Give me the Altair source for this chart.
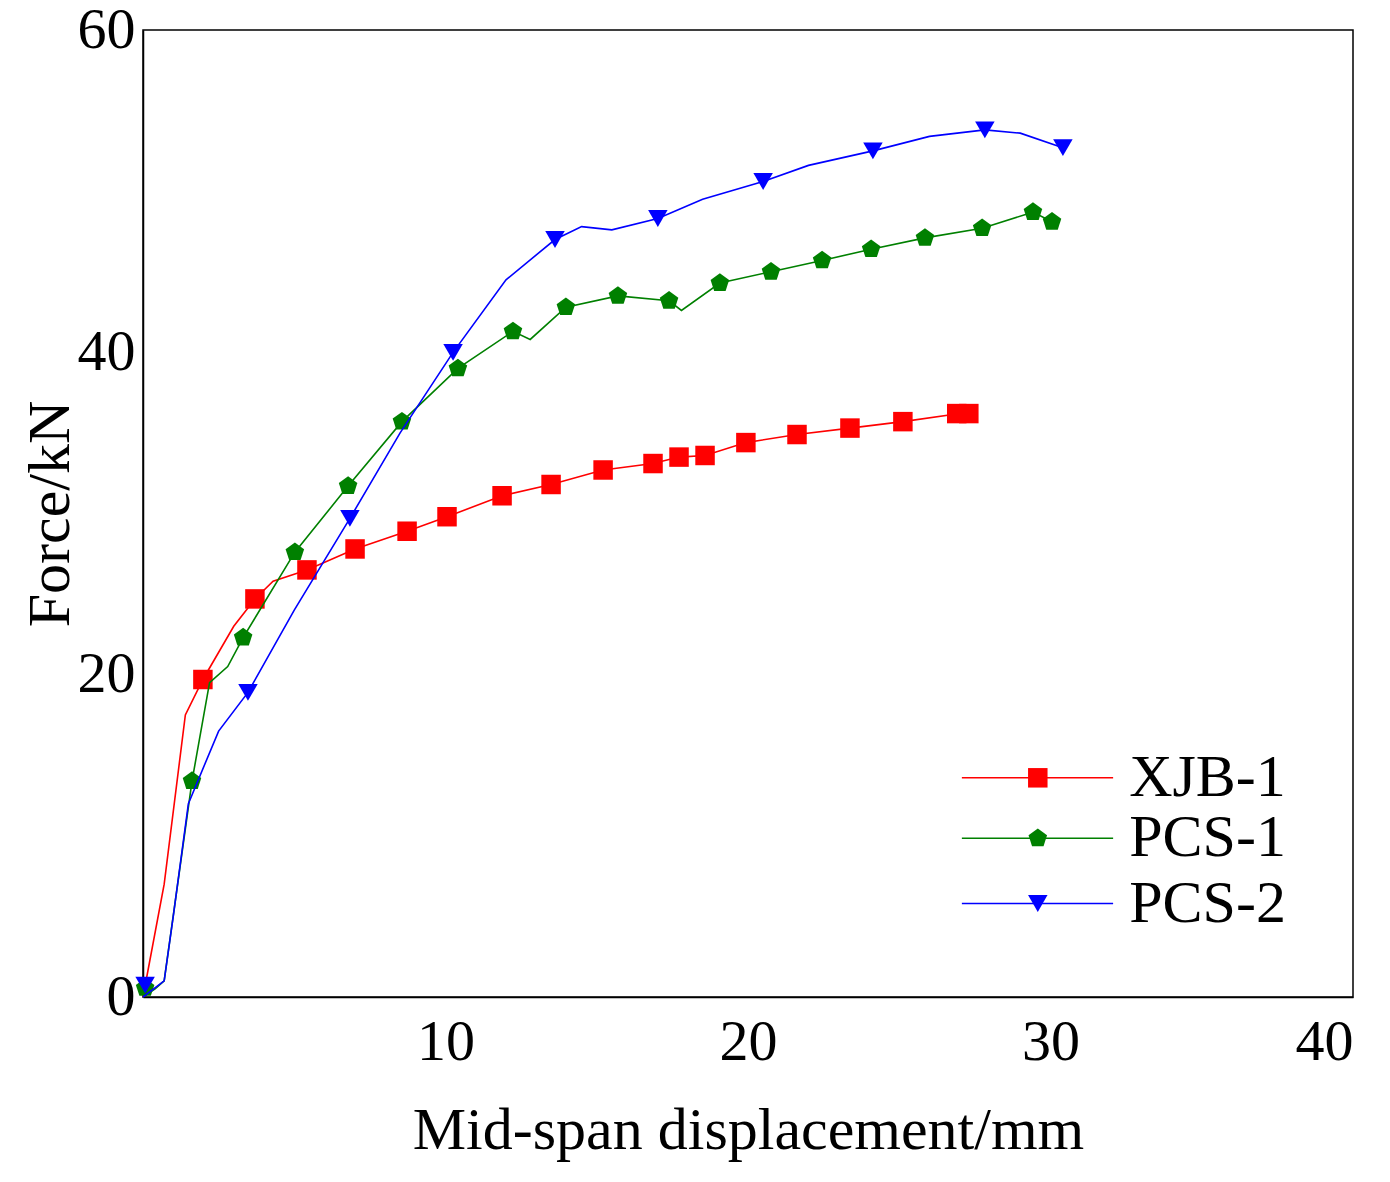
import altair as alt
import pandas as pd

# Line traces (markers are drawn at the listed marker points)
XJB_X = [0, 0.7, 1.4, 1.98, 3.0, 3.70, 4.3, 5.42, 7.01, 8.73, 10.05, 11.87, 13.49, 15.21, 16.86, 17.72, 18.58, 19.93, 21.62, 23.37, 25.12, 27.0, 27.3]
XJB_Y = [0, 7, 17.5, 19.7, 23.0, 24.7, 25.8, 26.5, 27.8, 28.9, 29.8, 31.1, 31.8, 32.7, 33.1, 33.5, 33.6, 34.4, 34.9, 35.3, 35.7, 36.2, 36.2]
XJB_MX = [1.98, 3.70, 5.42, 7.01, 8.73, 10.05, 11.87, 13.49, 15.21, 16.86, 17.72, 18.58, 19.93, 21.62, 23.37, 25.12, 26.9, 27.3]
XJB_MY = [19.7, 24.7, 26.5, 27.8, 28.9, 29.8, 31.1, 31.8, 32.7, 33.1, 33.5, 33.6, 34.4, 34.9, 35.3, 35.7, 36.2, 36.2]

PCS1_X = [0, 0.4, 0.7, 1.62, 2.2, 2.8, 3.31, 5.02, 6.78, 8.56, 10.41, 12.23, 12.8, 13.98, 15.70, 17.39, 17.8, 19.07, 20.76, 22.45, 24.07, 25.85, 27.74, 29.42, 30.05]
PCS1_Y = [0, 0.5, 1.0, 13.4, 19.5, 20.5, 22.3, 27.6, 31.7, 35.7, 39.0, 41.3, 40.8, 42.8, 43.5, 43.2, 42.6, 44.3, 45.0, 45.7, 46.4, 47.1, 47.7, 48.7, 48.1]
PCS1_MX = [0.07, 1.62, 3.31, 5.02, 6.78, 8.56, 10.41, 12.23, 13.98, 15.70, 17.39, 19.07, 20.76, 22.45, 24.07, 25.85, 27.74, 29.42, 30.05]
PCS1_MY = [0.56, 13.4, 22.3, 27.6, 31.7, 35.7, 39.0, 41.3, 42.8, 43.5, 43.2, 44.3, 45.0, 45.7, 46.4, 47.1, 47.7, 48.7, 48.1]

PCS2_X = [0, 0.7, 1.0, 1.5, 2.5, 3.47, 5.0, 6.84, 8.5, 10.25, 12.0, 13.62, 14.5, 15.5, 17.02, 18.5, 20.5, 22.0, 24.13, 26.0, 27.83, 29.0, 30.41]
PCS2_Y = [0, 1.0, 5.0, 12.0, 16.5, 18.9, 24.0, 29.7, 35.0, 40.0, 44.5, 47.0, 47.8, 47.6, 48.3, 49.5, 50.6, 51.6, 52.5, 53.4, 53.8, 53.6, 52.7]
PCS2_MX = [0.07, 3.47, 6.84, 10.25, 13.62, 17.02, 20.5, 24.13, 27.83, 30.41]
PCS2_MY = [0.74, 18.9, 29.7, 40.0, 47.0, 48.3, 50.6, 52.5, 53.8, 52.7]

SERIES = ["XJB-1", "PCS-1", "PCS-2"]
COLORS = ["#ff0000", "#008000", "#0000ff"]
PENTAGON = "M0,-1L0.951,-0.309L0.588,0.809L-0.588,0.809L-0.951,-0.309Z"
SHAPES = ["square", PENTAGON, "triangle-down"]

FONT = "Liberation Serif"
xs = alt.Scale(domain=[0, 40], nice=False)
ys = alt.Scale(domain=[0, 60], nice=False)

lines = [(XJB_X, XJB_Y, XJB_MX, XJB_MY), (PCS1_X, PCS1_Y, PCS1_MX, PCS1_MY), (PCS2_X, PCS2_Y, PCS2_MX, PCS2_MY)]

# legend placement in data units
LEG_Y = [13.6, 9.85, 5.8]

layers = []
for i, (lx, ly, mx, my) in enumerate(lines):
    c = COLORS[i]
    ldf = pd.DataFrame({"x": lx, "y": ly, "o": range(len(lx))})
    mdf = pd.DataFrame({"x": mx, "y": my})
    first = len(layers) == 0
    xa = alt.X("x:Q", scale=xs, title="Mid-span displacement/mm",
               axis=alt.Axis(values=[10, 20, 30, 40], grid=False, tickSize=0, labelPadding=16, titlePadding=30)) if first else alt.X("x:Q", scale=xs)
    ya = alt.Y("y:Q", scale=ys, title="Force/kN",
               axis=alt.Axis(values=[0, 20, 40, 60], grid=False, tickSize=0, labelPadding=8, titlePadding=-4)) if first else alt.Y("y:Q", scale=ys)
    layers.append(alt.Chart(ldf).mark_line(color=c, strokeWidth=1.6).encode(x=xa, y=ya, order="o:Q"))
    layers.append(alt.Chart(mdf).mark_point(color=c, fill=c, filled=True, opacity=1, shape=SHAPES[i], size=380).encode(x="x:Q", y="y:Q"))
    leg = pd.DataFrame({"x": [27.07], "x2": [32.07], "xm": [29.58], "xt": [32.6], "y": [LEG_Y[i]], "t": [SERIES[i]]})
    layers.append(alt.Chart(leg).mark_rule(color=c, strokeWidth=1.6).encode(x="x:Q", x2="x2:Q", y="y:Q"))
    layers.append(alt.Chart(leg).mark_point(color=c, fill=c, filled=True, opacity=1, shape=SHAPES[i], size=380).encode(x="xm:Q", y="y:Q"))
    layers.append(alt.Chart(leg).mark_text(align="left", baseline="middle", font=FONT, fontSize=60, color="black").encode(x="xt:Q", y="y:Q", text="t:N"))

chart = alt.layer(*layers).properties(
    width=1210, height=967,
    autosize=alt.AutoSizeParams(type="none"),
    padding={"left": 135, "top": 22, "right": 20, "bottom": 180},
).configure_view(stroke="black", strokeWidth=1.5).configure_axis(
    labelFont=FONT, titleFont=FONT, labelFontSize=58, titleFontSize=60,
    labelColor="black", titleColor="black", titleFontWeight="normal",
    domainColor="black", domainWidth=1.5,
)

chart.save("out.html", embed_options={"renderer": "svg", "actions": False})
